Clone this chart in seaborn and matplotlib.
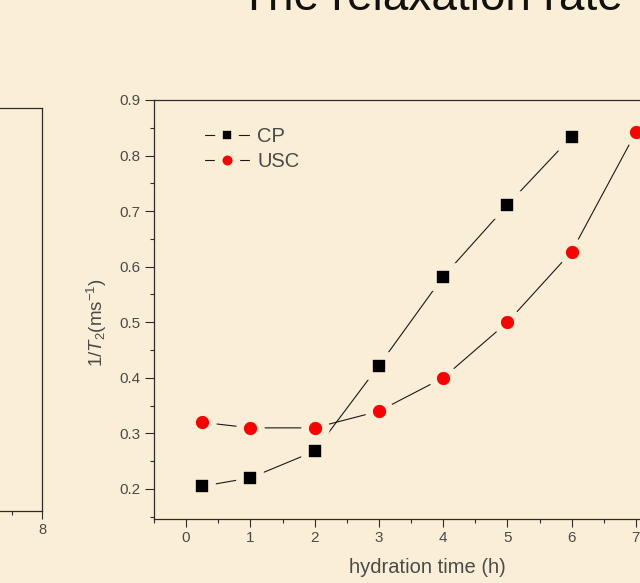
import matplotlib
matplotlib.use("Agg")
import matplotlib.pyplot as plt
from matplotlib.ticker import MultipleLocator
import seaborn as sns
import pandas as pd

# Transverse relaxation rate versus hydration time
hours_cp = [0.25, 1, 2, 3, 4, 5, 6]
rate_cp = [0.205, 0.22, 0.268, 0.422, 0.582, 0.711, 0.834]
hours_usc = [0.25, 1, 2, 3, 4, 5, 6, 7]
rate_usc = [0.32, 0.31, 0.31, 0.34, 0.40, 0.50, 0.627, 0.842]
series_names = ["CP", "USC"]
x_ticks = [0, 1, 2, 3, 4, 5, 6, 7]
y_ticks = [0.2, 0.3, 0.4, 0.5, 0.6, 0.7, 0.8, 0.9]
left_panel_ticks = [8]

BG = "#FAEFD6"
INK = "#2b2b2b"
LABEL = "#4a4a4a"

sns.set_theme(style="ticks")
plt.rcParams["font.family"] = ["Liberation Sans", "DejaVu Sans"]
plt.rcParams["mathtext.fontset"] = "custom"
plt.rcParams["mathtext.rm"] = "Liberation Sans"
plt.rcParams["mathtext.it"] = "Liberation Sans:italic"

fig = plt.figure(figsize=(6.4, 5.83), dpi=100, facecolor=BG)
W, H = 640, 583


def px_axes(x0, y_top, x1, y_bottom):
    return [x0 / W, 1 - y_bottom / H, (x1 - x0) / W, (y_bottom - y_top) / H]


# neighbouring panel on the left (only its right edge shows)
axl = fig.add_axes(px_axes(-438, 108, 42, 511))
axl.set_facecolor(BG)
axl.set_xlim(0, 8)
axl.set_ylim(0, 1)
axl.set_xticks(left_panel_ticks)
axl.xaxis.set_minor_locator(MultipleLocator(0.5))
axl.set_yticks([])
axl.tick_params(axis="x", which="major", direction="out", length=6, width=0.8,
                color=INK, labelsize=10.5, labelcolor=LABEL, pad=3)
axl.tick_params(axis="x", which="minor", direction="out", length=3, width=0.8, color=INK)
for s in axl.spines.values():
    s.set_color(INK)
    s.set_linewidth(0.9)

# main panel
ax = fig.add_axes(px_axes(154, 100, 668, 519))
ax.set_facecolor(BG)

df_cp = pd.DataFrame({"hours": hours_cp, "rate": rate_cp})
df_usc = pd.DataFrame({"hours": hours_usc, "rate": rate_usc})

# a background-coloured marker edge leaves a small gap between symbol and line
common = dict(ax=ax, color="#1a1a1a", linewidth=0.8, markeredgecolor=BG,
              markeredgewidth=5.5)
sns.lineplot(data=df_cp, x="hours", y="rate", marker="s", markersize=14,
             markerfacecolor="black", label=series_names[0], **common)
sns.lineplot(data=df_usc, x="hours", y="rate", marker="o", markersize=15,
             markerfacecolor="#ff0000", label=series_names[1], **common)

ax.set_xlim(-0.5, 7.5)
ax.set_ylim(0.146, 0.9)
ax.set_xticks(x_ticks)
ax.set_yticks(y_ticks)
ax.set_yticklabels([f"{v:.1f}" for v in y_ticks])
ax.xaxis.set_minor_locator(MultipleLocator(0.5))
ax.yaxis.set_minor_locator(MultipleLocator(0.05))
ax.tick_params(axis="both", which="major", direction="out", width=0.8,
               color=INK, labelsize=11, labelcolor=LABEL, pad=3)
ax.tick_params(axis="x", which="major", length=5.5)
ax.tick_params(axis="y", which="major", length=6.5)
ax.tick_params(axis="both", which="minor", direction="out", length=3, width=0.8, color=INK)
for s in ax.spines.values():
    s.set_color(INK)
    s.set_linewidth(0.9)

ax.set_xlabel("hydration time (h)", fontsize=14.5, color=LABEL)
ax.set_ylabel(r"$1/T_2$(ms$^{-1}$)", fontsize=13.5, color=LABEL)
ax.xaxis.set_label_coords(0.531, -0.093)
ax.yaxis.set_label_coords(-0.087, 0.468)

leg = ax.legend(loc="upper left", bbox_to_anchor=(0.099, 0.936), frameon=False,
                fontsize=14.5, handlelength=2.2, handletextpad=0.4,
                labelspacing=0.33, borderpad=0, borderaxespad=0, markerscale=0.85)
for t in leg.get_texts():
    t.set_color(LABEL)

fig.text(240 / W, 1 - 10 / H, "The relaxation rate", fontsize=33,
         color="#111111", ha="left", va="baseline")

fig.savefig("out.png", dpi=100, facecolor=BG)
